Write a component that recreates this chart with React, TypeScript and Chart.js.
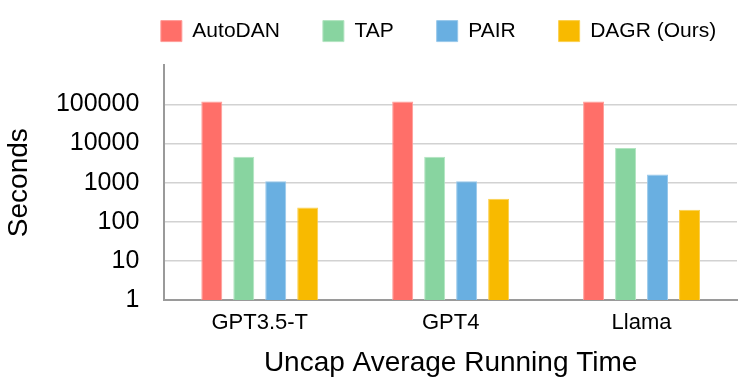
import React, { useEffect, useRef } from "react";
import { Chart, registerables } from "chart.js";

Chart.register(...registerables);

const categories = ["GPT3.5-T", "GPT4", "Llama"];
const seriesNames = ["AutoDAN", "TAP", "PAIR", "DAGR (Ours)"];
const autoDAN = [119000, 119000, 119000];
const tap = [4590, 4590, 7710];
const pair = [1080, 1080, 1610];
const dagr = [230, 385, 204];
const seriesColors = ["#FF6F69", "#88D4A0", "#69AFE1", "#F8BA00"];
const seriesBorders = ["#FF9C98", "#B2E4C1", "#98C8EB", "#FBCF4D"];
const yTickValues = [1, 10, 100, 1000, 10000, 100000, 1000000];
const yTickLabels = ["1", "10", "100", "1000", "10000", "100000", ""];
const yTitle = "Seconds";
const xTitle = "Uncap Average Running Time";

const FONT = "'Liberation Sans', Arial, Helvetica, sans-serif";

const legendShift = {
  id: "legendShift",
  afterLayout(chart: any) {
    const lg = chart.legend;
    if (!lg) return;
    lg.left += 70;
    lg.right += 70;
    lg.top -= 13.7;
    lg.bottom -= 13.7;
  },
};

export default function App() {
  const ref = useRef<HTMLCanvasElement | null>(null);
  useEffect(() => {
    if (!ref.current) return;
    const values = [autoDAN, tap, pair, dagr];
    const chart = new Chart(ref.current, {
      type: "bar",
      data: {
        labels: categories,
        datasets: seriesNames.map((name, i) => ({
          label: name,
          data: values[i],
          backgroundColor: seriesColors[i],
          borderColor: seriesBorders[i],
          borderWidth: 1,
          categoryPercentage: 0.67,
          barPercentage: 0.656,
        })),
      },
      plugins: [legendShift],
      options: {
        animation: false,
        responsive: false,
        maintainAspectRatio: false,
        layout: { padding: { top: -8.7, right: 11, bottom: 0, left: 0 } },
        plugins: {
          tooltip: { enabled: false },
          legend: {
            position: "top",
            align: "center",
            labels: {
              boxWidth: 21,
              boxHeight: 21,
              padding: 43,
              color: "#000",
              font: { family: FONT, size: 21 },
            },
          },
        },
        scales: {
          x: {
            grid: { display: false, drawTicks: false },
            border: { display: true, color: "#9a9a9a", width: 2 },
            ticks: { color: "#000", padding: 10, font: { family: FONT, size: 22 } },
            title: {
              display: true,
              text: xTitle,
              color: "#000",
              font: { family: FONT, size: 28 },
              padding: { top: 0, bottom: 11 },
            },
          },
          y: {
            type: "logarithmic",
            min: 1,
            max: 1000000,
            afterBuildTicks: (scale: any) => {
              scale.ticks = yTickValues.map((v) => ({ value: v }));
            },
            afterFit: (scale: any) => {
              scale.width = 164.3;
            },
            grid: {
              drawTicks: false,
              color: "#d2d2d2",
              lineWidth: 1.5,
            },
            border: { display: true, color: "#9a9a9a", width: 2 },
            ticks: {
              color: "#000",
              padding: 25,
              autoSkip: false,
              font: { family: FONT, size: 25 },
              callback: (value: any) => {
                const idx = yTickValues.indexOf(Number(value));
                if (idx < 0) return null;
                const lbl = yTickLabels[idx];
                return lbl === "" ? null : lbl;
              },
            },
            title: {
              display: true,
              text: yTitle,
              color: "#000",
              font: { family: FONT, size: 28 },
              padding: { top: 2, bottom: 0 },
            },
          },
        },
      },
    } as any);
    return () => chart.destroy();
  }, []);
  return (
    <div style={{ position: "fixed", left: 0, top: 0, width: 748, height: 391, background: "#fff" }}>
      <canvas ref={ref} width={748} height={391} style={{ display: "block" }} />
    </div>
  );
}
